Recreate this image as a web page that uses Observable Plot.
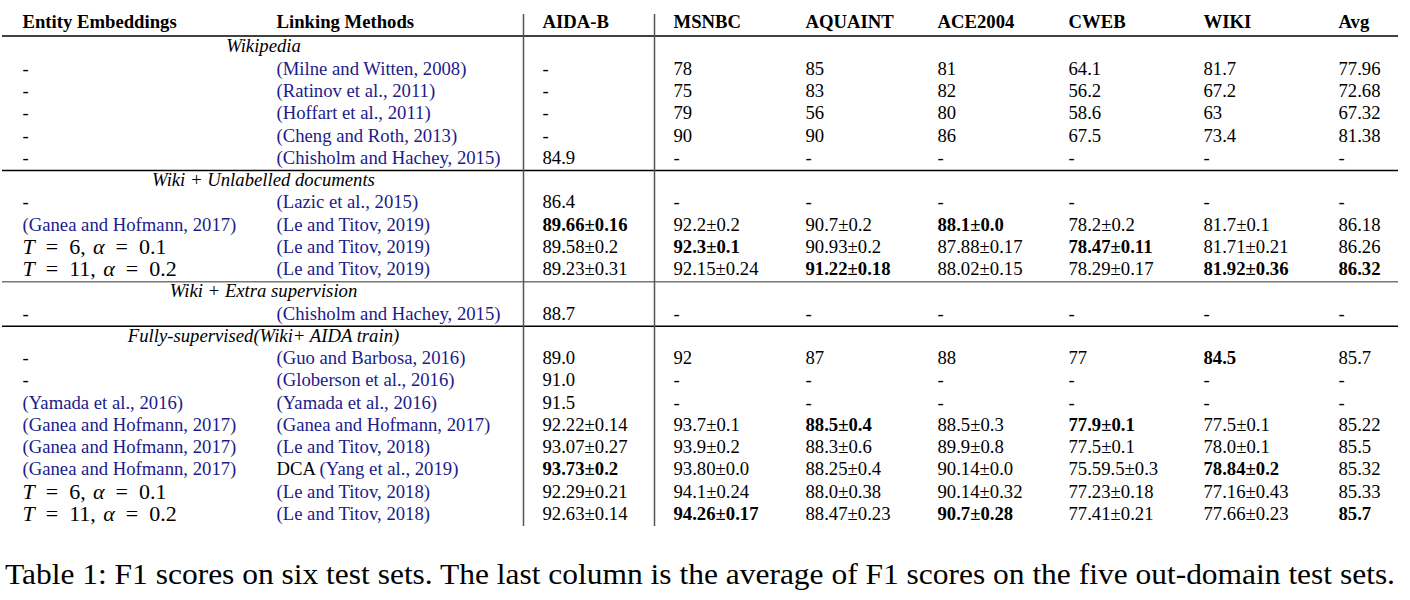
<!DOCTYPE html>
<html>
<head>
<meta charset="utf-8">
<script src="https://cdn.jsdelivr.net/npm/d3@7"></script>
<script src="https://cdn.jsdelivr.net/npm/@observablehq/plot@0.6"></script>
<style>
  html, body { margin: 0; padding: 0; background: #fff; }
  #caption { font-family: "Liberation Serif", "Times New Roman", serif; font-size: 29px; line-height: 31px; margin: 19px 0 0 5px; white-space: nowrap; color: #000; display: inline-block; transform-origin: 0 50%; }
</style>
</head>
<body>
<div id="chart"></div>
<div id="caption">Table 1: F1 scores on six test sets. The last column is the average of F1 scores on the five out-domain test sets.</div>
<script>
// ---------------- data ----------------
const columns = ["Entity Embeddings", "Linking Methods", "AIDA-B", "MSNBC", "AQUAINT", "ACE2004", "CWEB", "WIKI", "Avg"];
const groups = ["Wikipedia", "Wiki + Unlabelled documents", "Wiki + Extra supervision", "Fully-supervised(Wiki+ AIDA train)"];
const groupSizes = [5, 4, 1, 8];

const embeddings = ["-", "-", "-", "-", "-",
  "-", "(Ganea and Hofmann, 2017)", "T = 6, α = 0.1", "T = 11, α = 0.2",
  "-",
  "-", "-", "(Yamada et al., 2016)", "(Ganea and Hofmann, 2017)", "(Ganea and Hofmann, 2017)", "(Ganea and Hofmann, 2017)", "T = 6, α = 0.1", "T = 11, α = 0.2"];
const methods = ["(Milne and Witten, 2008)", "(Ratinov et al., 2011)", "(Hoffart et al., 2011)", "(Cheng and Roth, 2013)", "(Chisholm and Hachey, 2015)",
  "(Lazic et al., 2015)", "(Le and Titov, 2019)", "(Le and Titov, 2019)", "(Le and Titov, 2019)",
  "(Chisholm and Hachey, 2015)",
  "(Guo and Barbosa, 2016)", "(Globerson et al., 2016)", "(Yamada et al., 2016)", "(Ganea and Hofmann, 2017)", "(Le and Titov, 2018)", "DCA (Yang et al., 2019)", "(Le and Titov, 2018)", "(Le and Titov, 2018)"];
const aidaB = ["-", "-", "-", "-", "84.9",
  "86.4", "89.66±0.16", "89.58±0.2", "89.23±0.31",
  "88.7",
  "89.0", "91.0", "91.5", "92.22±0.14", "93.07±0.27", "93.73±0.2", "92.29±0.21", "92.63±0.14"];
const msnbc = ["78", "75", "79", "90", "-",
  "-", "92.2±0.2", "92.3±0.1", "92.15±0.24",
  "-",
  "92", "-", "-", "93.7±0.1", "93.9±0.2", "93.80±0.0", "94.1±0.24", "94.26±0.17"];
const aquaint = ["85", "83", "56", "90", "-",
  "-", "90.7±0.2", "90.93±0.2", "91.22±0.18",
  "-",
  "87", "-", "-", "88.5±0.4", "88.3±0.6", "88.25±0.4", "88.0±0.38", "88.47±0.23"];
const ace2004 = ["81", "82", "80", "86", "-",
  "-", "88.1±0.0", "87.88±0.17", "88.02±0.15",
  "-",
  "88", "-", "-", "88.5±0.3", "89.9±0.8", "90.14±0.0", "90.14±0.32", "90.7±0.28"];
const cweb = ["64.1", "56.2", "58.6", "67.5", "-",
  "-", "78.2±0.2", "78.47±0.11", "78.29±0.17",
  "-",
  "77", "-", "-", "77.9±0.1", "77.5±0.1", "75.59.5±0.3", "77.23±0.18", "77.41±0.21"];
const wiki = ["81.7", "67.2", "63", "73.4", "-",
  "-", "81.7±0.1", "81.71±0.21", "81.92±0.36",
  "-",
  "84.5", "-", "-", "77.5±0.1", "78.0±0.1", "78.84±0.2", "77.16±0.43", "77.66±0.23"];
const avg = ["77.96", "72.68", "67.32", "81.38", "-",
  "-", "86.18", "86.26", "86.32",
  "-",
  "85.7", "-", "-", "85.22", "85.5", "85.32", "85.33", "85.7"];
// best results (bold): entry indices per column
const boldAidaB = [6, 15];
const boldMsnbc = [7, 17];
const boldAquaint = [8, 13];
const boldAce2004 = [6, 17];
const boldCweb = [7, 13];
const boldWiki = [8, 10, 15];
const boldAvg = [8, 17];

// ---------------- table construction ----------------
const colData = [embeddings, methods, aidaB, msnbc, aquaint, ace2004, cweb, wiki, avg];
const colBold = [[], [], boldAidaB, boldMsnbc, boldAquaint, boldAce2004, boldCweb, boldWiki, boldAvg];

const sectionRows = [];
const entryRow = [];
let r = 1;
groups.forEach((g, gi) => {
  sectionRows.push({row: r, label: g});
  r++;
  for (let i = 0; i < groupSizes[gi]; i++) { entryRow.push(r); r++; }
});
const lastRow = r - 1;
const groupBreaks = sectionRows.slice(1).map(s => s.row - 0.5);
const blackBreaks = [0.5].concat(groupBreaks.filter((d, i) => i !== 1));
const greyBreaks = [groupBreaks[1]];

const header = columns.map((c, i) => ({col: i, row: 0, text: c}));
const cells = [];
colData.forEach((arr, ci) => {
  arr.forEach((t, k) => {
    cells.push({col: ci, row: entryRow[k], text: t, bold: colBold[ci].includes(k), cite: t.includes("("), math: t.startsWith("T =")});
  });
});

const BLUE = "#1b1b8a";
const FONT = "Liberation Serif, Times New Roman, serif";
const FS = 18.7;

const chart = Plot.plot({
  width: 1410,
  height: 540,
  marginTop: 14,
  marginBottom: 14,
  marginLeft: 2,
  marginRight: 12,
  style: {fontFamily: FONT, fontSize: FS + "px", background: "#fff", overflow: "visible"},
  x: {type: "linear", domain: [0, 1, 2, 3, 4, 5, 6, 7, 8], range: [22, 276, 542, 673, 805, 937, 1068, 1203, 1338], axis: null},
  y: {type: "linear", domain: [0, 1, lastRow], range: [22, 46, 513.5], axis: null},
  marks: [
    Plot.ruleY(blackBreaks, {dy: 1.5, stroke: "#000", strokeWidth: 1.4}),
    Plot.ruleY(greyBreaks, {dy: 1.5, stroke: "#777", strokeWidth: 1.4}),
    Plot.ruleX([2, 3], {dx: -19, stroke: "#555", strokeWidth: 1.5}),
    Plot.text(header, {x: "col", y: "row", text: "text", textAnchor: "start", lineAnchor: "middle", fontWeight: "bold", fill: "#000", fontSize: FS}),
    Plot.text(sectionRows, {x: () => 1, y: "row", text: "label", textAnchor: "middle", lineAnchor: "middle", dx: -13, fontStyle: "italic", fill: "#000", fontSize: FS}),
    Plot.text(cells.filter(d => !d.cite && !d.bold && !d.math), {x: "col", y: "row", text: "text", textAnchor: "start", lineAnchor: "middle", fill: "#000", fontSize: FS}),
    Plot.text(cells.filter(d => d.bold), {x: "col", y: "row", text: "text", textAnchor: "start", lineAnchor: "middle", fill: "#000", fontWeight: "bold", fontSize: FS}),
    Plot.text(cells.filter(d => d.cite), {x: "col", y: "row", text: "text", textAnchor: "start", lineAnchor: "middle", fill: BLUE, fontSize: FS}),
    Plot.text(cells.filter(d => d.math), {x: "col", y: "row", text: "text", textAnchor: "start", lineAnchor: "middle", fill: "#000", fontSize: 22})
  ]
});

// typeset math-like labels and the "DCA" prefix
d3.select(chart).selectAll("text").each(function() {
  const t = this.textContent;
  if (t.startsWith("T =")) {
    const m = t.match(/^T = (\d+), α = ([\d.]+)$/);
    if (!m) return;
    this.textContent = "";
    const sel = d3.select(this);
    sel.append("tspan").attr("font-style", "italic").text("T");
    sel.append("tspan").text("\u2002=\u2002" + m[1] + ",\u2004");
    sel.append("tspan").attr("font-style", "italic").text("α");
    sel.append("tspan").text("\u2002=\u2002" + m[2]);
  } else if (t.startsWith("DCA ")) {
    this.textContent = "";
    const sel = d3.select(this);
    sel.append("tspan").attr("fill", "#000").text("DCA ");
    sel.append("tspan").text(t.slice(4));
  }
});

document.getElementById("chart").appendChild(chart);

// stretch the caption to span the table width, as in the reference
const cap = document.getElementById("caption");
const w = cap.getBoundingClientRect().width;
cap.style.transform = "scaleX(" + (1390 / w) + ")";
</script>
</body>
</html>
